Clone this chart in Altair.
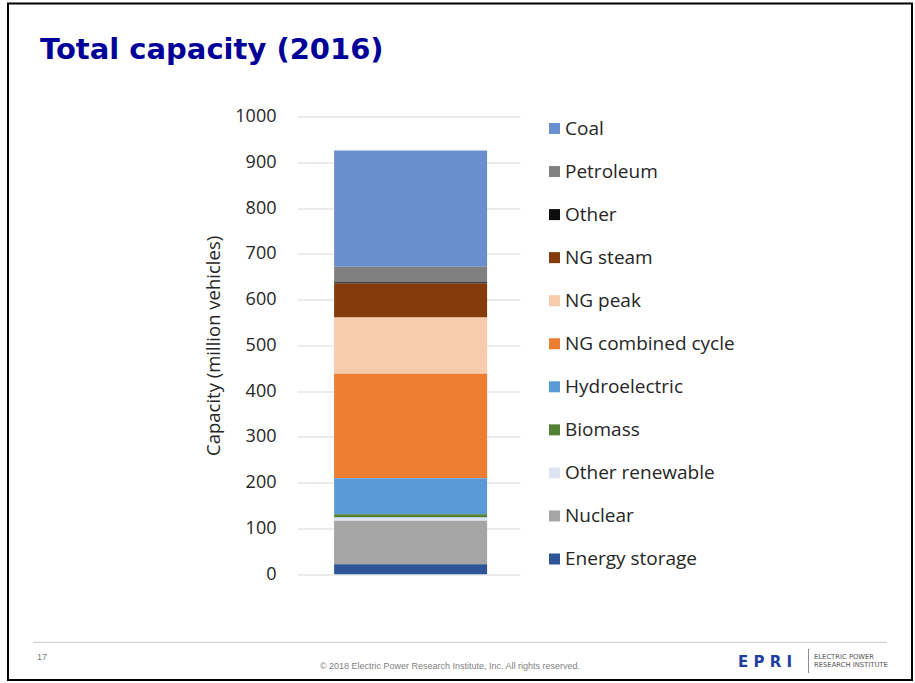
import altair as alt
import pandas as pd

# ---- data (legend order, top to bottom) ----
sources = ["Coal", "Petroleum", "Other", "NG steam", "NG peak", "NG combined cycle",
           "Hydroelectric", "Biomass", "Other renewable", "Nuclear", "Energy storage"]
capacity = [254, 34, 3, 74, 123, 228, 79, 7, 7, 95, 22]
colors = ["#6A8FCF", "#808080", "#0D0D0D", "#843C0C", "#F8CBAD", "#ED7D31",
          "#5B9BD5", "#548235", "#DCE4F4", "#A5A5A5", "#2F5597"]
stack_pos = [10, 9, 8, 7, 6, 5, 4, 3, 2, 1, 0]   # 0 = bottom of the bar
year_label = ["2016"]
tick_values = [0, 100, 200, 300, 400, 500, 600, 700, 800, 900, 1000]

title_text = ["Total capacity (2016)"]
axis_title = "Capacity (million vehicles)"
page_number = ["17"]
copyright_text = ["\u00a9 2018 Electric Power Research Institute, Inc. All rights reserved."]
logo_text = ["E P R I"]
logo_sub1 = ["ELECTRIC POWER"]
logo_sub2 = ["RESEARCH INSTITUTE"]

df = pd.DataFrame({"source": sources, "capacity": capacity, "pos": stack_pos,
                   "year": year_label * len(sources)})

# plot-area geometry (pixels on the 915x683 page)
PL, PT = 297, 116.5
PW, PH = 223, 457.8
FONT = "Open Sans"
TXT = "#262626"

bars = alt.Chart(df).mark_bar(stroke=None).encode(
    x=alt.X("year:N", axis=None,
            scale=alt.Scale(paddingInner=0, paddingOuter=0.2288, align=0.53)),
    y=alt.Y("capacity:Q", stack="zero",
            scale=alt.Scale(domain=[0, 1000], nice=False, zero=True),
            axis=alt.Axis(values=tick_values, format="d", grid=True,
                          gridColor="#D9D9D9",
                          gridWidth=1, domain=False, ticks=False,
                          labelFont=FONT, labelFontSize=18, labelColor=TXT,
                          labelPadding=21,
                          title=axis_title, titleFont=FONT, titleFontSize=18.5,
                          titleFontWeight="normal", titleColor=TXT,
                          titleAngle=-90, titleX=-84, titleY=PH / 2,
                          titleAlign="center", titleBaseline="middle")),
    color=alt.Color("source:N",
                    scale=alt.Scale(domain=sources, range=colors),
                    legend=alt.Legend(orient="none", legendX=248, legendY=2.5,
                                      title=None, symbolType="square",
                                      symbolSize=121, symbolStrokeWidth=0,
                                      symbolOpacity=1,
                                      labelFont=FONT, labelFontSize=19,
                                      labelColor=TXT, labelOffset=1,
                                      labelLimit=400,
                                      rowPadding=23.05, padding=0)),
    order=alt.Order("pos:Q", sort="ascending"),
)

def text_layer(values, x, y, size, color, font="Liberation Sans", weight="normal",
               align="left", baseline="alphabetic"):
    d = pd.DataFrame({"t": values})
    return alt.Chart(d).mark_text(
        font=font, fontSize=size, fontWeight=weight, color=color,
        align=align, baseline=baseline
    ).encode(text="t:N", x=alt.value(x - PL), y=alt.value(y - PT))

one = pd.DataFrame({"k": [1]})

frame = alt.Chart(one).mark_rect(fillOpacity=0, stroke="#000000", strokeWidth=2).encode(
    x=alt.value(8 - PL), x2=alt.value(912 - PL),
    y=alt.value(3.5 - PT), y2=alt.value(680 - PT))

footer_rule = alt.Chart(one).mark_rule(color="#C8C8C8", strokeWidth=1).encode(
    x=alt.value(33 - PL), x2=alt.value(887 - PL), y=alt.value(642.3 - PT))

logo_rule = alt.Chart(one).mark_rule(color="#8C8C8C", strokeWidth=1).encode(
    x=alt.value(808.5 - PL), y=alt.value(649 - PT), y2=alt.value(673 - PT))

title = text_layer(title_text, 40, 58.5, 29, "#000099", font="DejaVu Sans", weight="bold")
pnum = text_layer(page_number, 37, 659.5, 9, "#808080")
copy_t = text_layer(copyright_text, 450, 669, 9, "#7F7F7F", align="center")
logo = text_layer(logo_text, 765, 667, 15, "#1F3F9F", font="DejaVu Sans",
                  weight="bold", align="center")
sub1 = text_layer(logo_sub1, 814, 658.5, 6.8, "#555555", font="DejaVu Sans")
sub2 = text_layer(logo_sub2, 814, 667, 6.8, "#555555", font="DejaVu Sans")

chart = alt.layer(
    bars, frame, footer_rule, logo_rule, title, pnum, copy_t, logo, sub1, sub2
).properties(
    width=PW, height=PH,
    autosize=alt.AutoSizeParams(type="none"),
    padding={"left": PL, "top": PT, "right": 915 - PL - PW, "bottom": 683 - PT - PH},
    background="white",
).configure_view(stroke=None)

chart.save("out.html", embed_options={"renderer": "svg", "actions": False})
